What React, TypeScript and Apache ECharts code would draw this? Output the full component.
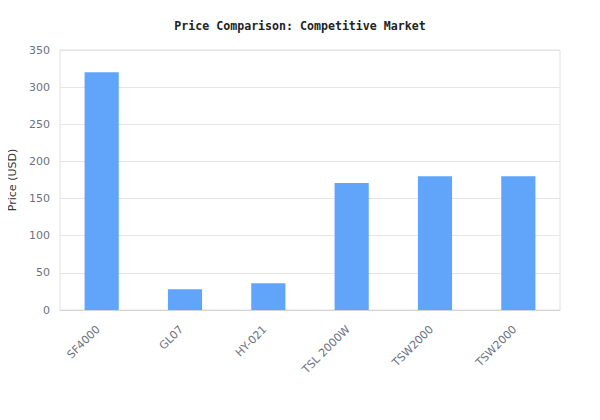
import React, { useEffect, useRef } from "react";
import * as echarts from "echarts";

const products = ["SF4000", "GL07", "HY-021", "TSL 2000W", "TSW2000", "TSW2000"];
const prices = [320, 28, 36, 171, 180, 180];

const App: React.FC = () => {
    const chartRef = useRef<HTMLDivElement>(null);

    useEffect(() => {
        if (!chartRef.current) return;
        const chart = echarts.init(chartRef.current, undefined, { renderer: "svg" });

        chart.setOption({
            animation: false,
            title: {
                text: "Price Comparison: Competitive Market",
                left: "center",
                top: 15,
                textStyle: {
                    fontFamily: "DejaVu Sans Mono",
                    fontSize: 11.6,
                    fontWeight: "bold",
                    color: "#222",
                },
            },
            grid: {
                left: 60,
                right: 40,
                top: 50,
                bottom: 110,
                containLabel: false,
                outerBoundsMode: "none",
                show: true,
                borderColor: "#e0e0e0",
                borderWidth: 1,
            },
            xAxis: {
                type: "category",
                data: products,
                axisTick: { show: false },
                axisLine: { lineStyle: { color: "#d4d4d4" } },
                axisLabel: {
                    rotate: 45,
                    color: "#6b7280",
                    fontFamily: "DejaVu Sans",
                    fontSize: 11,
                    margin: 14,
                    padding: [0, 5, 0, 0],
                },
            },
            yAxis: {
                type: "value",
                min: 0,
                max: 350,
                interval: 50,
                name: "Price (USD)",
                nameLocation: "middle",
                nameGap: 40,
                nameTextStyle: {
                    color: "#333",
                    fontFamily: "DejaVu Sans",
                    fontSize: 11,
                },
                axisLine: { show: false },
                axisTick: { show: false },
                axisLabel: {
                    color: "#6b7280",
                    fontFamily: "DejaVu Sans",
                    fontSize: 11,
                    margin: 10,
                },
                splitLine: { lineStyle: { color: "#e5e5e5" } },
            },
            series: [
                {
                    name: "Price",
                    type: "bar",
                    data: prices,
                    barWidth: "41%",
                    itemStyle: { color: "#60a5fa" },
                },
            ],
        });

        return () => {
            chart.dispose();
        };
    }, []);

    return (
        <div
            ref={chartRef}
            style={{ width: "600px", height: "420px", margin: "-8px 0 0 -8px" }}
        />
    );
};

export default App;
